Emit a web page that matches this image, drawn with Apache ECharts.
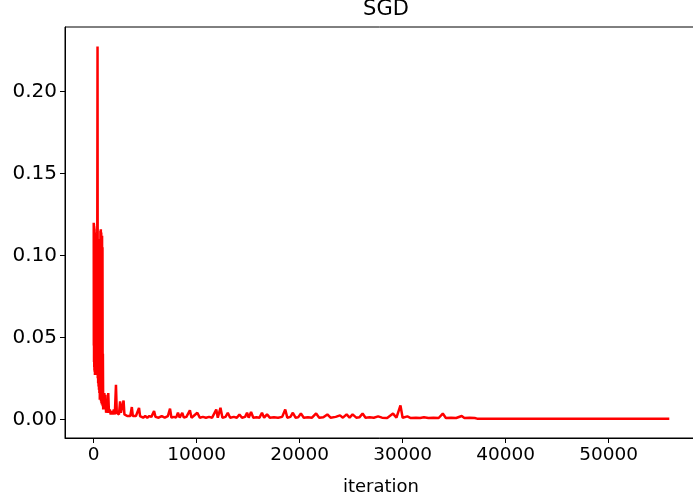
<!DOCTYPE html>
<html>
<head>
<meta charset="utf-8">
<script src="https://cdn.jsdelivr.net/npm/echarts@6/dist/echarts.min.js"></script>
<style>
  html, body { margin: 0; padding: 0; background: #fff; }
  #main { width: 693px; height: 501px; }
</style>
</head>
<body>
<div id="main"></div>
<script>
// loss values
const iterations = [
  0, 10, 20, 30, 40, 50, 60, 70, 80, 90, 100, 120, 140, 160, 180, 200, 220, 240, 260, 280,
  300, 320, 340, 370, 390, 410, 430, 450, 470, 490, 510, 530, 550, 570, 590, 610, 630, 650, 670, 690,
  710, 730, 750, 770, 790, 810, 830, 850, 870, 890, 920, 980, 1030, 1080, 1130, 1200, 1280, 1350, 1410, 1480,
  1560, 1650, 1750, 1850, 1950, 2050, 2160, 2240, 2350, 2450, 2560, 2640, 2720, 2800, 2900, 2980, 3100, 3250, 3400, 3550,
  3700, 3800, 3950, 4100, 4250, 4400, 4500, 4650, 4800, 5000, 5200, 5400, 5600, 5860, 6000, 6300, 6600, 6900, 7200, 7410,
  7550, 7800, 8000, 8180, 8350, 8600, 8750, 9000, 9340, 9500, 9700, 10060, 10300, 10600, 10900, 11200, 11500, 11900, 12050, 12310,
  12500, 12800, 13020, 13250, 13600, 13900, 14150, 14400, 14700, 14890, 15050, 15280, 15500, 15800, 16100, 16340, 16550, 16830, 17100, 17500,
  17900, 18300, 18600, 18800, 19100, 19340, 19600, 19850, 20120, 20400, 20800, 21200, 21600, 21900, 22300, 22690, 23000, 23500, 23920, 24200,
  24560, 24850, 25140, 25500, 25800, 26110, 26400, 26800, 27200, 27620, 28000, 28500, 29070, 29400, 29790, 30000, 30460, 30800, 31300, 31700,
  32070, 32500, 33000, 33500, 33900, 34200, 34700, 35200, 35740, 36000, 36500, 37000, 37230, 40000, 45000, 50000, 55900
];
const losses = [
  0.120, 0.045, 0.119, 0.035, 0.118, 0.032, 0.117, 0.030, 0.116, 0.029, 0.114, 0.027, 0.112, 0.028, 0.105, 0.029, 0.110, 0.027, 0.100, 0.030,
  0.095, 0.027, 0.090, 0.2275, 0.025, 0.110, 0.022, 0.105, 0.020, 0.100, 0.018, 0.110, 0.016, 0.105, 0.012, 0.110, 0.014, 0.115, 0.012, 0.116,
  0.011, 0.114, 0.010, 0.112, 0.009, 0.112, 0.010, 0.105, 0.008, 0.040, 0.006, 0.005, 0.016, 0.006, 0.015, 0.004, 0.008, 0.004, 0.016, 0.004,
  0.006, 0.003, 0.005, 0.003, 0.006, 0.003, 0.021, 0.004, 0.005, 0.003, 0.011, 0.004, 0.005, 0.003, 0.0115, 0.003, 0.004, 0.002, 0.003, 0.002,
  0.0075, 0.002, 0.003, 0.002, 0.002, 0.007, 0.002, 0.002, 0.001, 0.002, 0.001, 0.002, 0.0015, 0.005, 0.0015, 0.001, 0.002, 0.001, 0.002, 0.0065,
  0.001, 0.0015, 0.001, 0.004, 0.001, 0.004, 0.001, 0.0015, 0.0055, 0.001, 0.002, 0.004, 0.001, 0.0015, 0.001, 0.0015, 0.001, 0.006, 0.001, 0.007,
  0.001, 0.0015, 0.004, 0.001, 0.0015, 0.001, 0.003, 0.001, 0.0015, 0.004, 0.001, 0.0045, 0.001, 0.0012, 0.001, 0.004, 0.001, 0.003, 0.001, 0.0012,
  0.001, 0.0015, 0.006, 0.001, 0.0015, 0.004, 0.001, 0.0012, 0.0036, 0.001, 0.0012, 0.001, 0.0036, 0.001, 0.0012, 0.003, 0.001, 0.0015, 0.0024, 0.001,
  0.003, 0.001, 0.003, 0.001, 0.0012, 0.0036, 0.001, 0.0012, 0.001, 0.0018, 0.001, 0.0008, 0.0035, 0.001, 0.0085, 0.001, 0.0018, 0.0008, 0.001, 0.0008,
  0.0012, 0.0008, 0.001, 0.0008, 0.0035, 0.0008, 0.001, 0.0008, 0.002, 0.0008, 0.001, 0.0008, 0.0004, 0.0003, 0.0003, 0.0003, 0.0003
];
const xTicks = [0, 10000, 20000, 30000, 40000, 50000];
const yTicks = [0, 0.05, 0.10, 0.15, 0.20];

const chart = echarts.init(document.getElementById('main'));

const font = 'DejaVu Sans';

const option = {
  animation: false,
  backgroundColor: '#ffffff',
  title: {
    text: 'SGD',
    left: 381,
    textAlign: 'center',
    top: -6,
    textStyle: { fontFamily: font, fontSize: 21, fontWeight: 'normal', color: '#000' }
  },
  grid: {
    left: 65, top: 27, width: 632, height: 411,
    outerBoundsMode: 'none', containLabel: false,
    show: true, borderColor: '#000', borderWidth: 1
  },
  xAxis: {
    type: 'value',
    min: -2790,
    max: 58590,
    name: 'iteration',
    nameLocation: 'middle',
    nameGap: 40,
    nameTextStyle: { fontFamily: font, fontSize: 18, color: '#000' },
    axisLine: { onZero: false, lineStyle: { color: '#000', width: 1 } },
    axisTick: { show: true, length: 5, customValues: xTicks, lineStyle: { color: '#000', width: 1 } },
    axisLabel: {
      customValues: xTicks, fontFamily: font, fontSize: 18.5, color: '#000', margin: 8,
      formatter: v => String(v)
    },
    splitLine: { show: false }
  },
  yAxis: {
    type: 'value',
    min: -0.0114,
    max: 0.2394,
    axisLine: { show: true, onZero: false, lineStyle: { color: '#000', width: 1 } },
    axisTick: { show: true, length: 5, customValues: yTicks, lineStyle: { color: '#000', width: 1 } },
    axisLabel: {
      customValues: yTicks,
      fontFamily: font, fontSize: 20, color: '#000', margin: 8,
      formatter: v => v.toFixed(2)
    },
    splitLine: { show: false }
  },
  series: [
    {
      type: 'line',
      data: iterations.map((it, i) => [it, losses[i]]),
      showSymbol: false,
      symbol: 'none',
      lineStyle: { color: '#ff0000', width: 2.5 },
      itemStyle: { color: '#ff0000' }
    }
  ]
};

chart.setOption(option);
</script>
</body>
</html>
